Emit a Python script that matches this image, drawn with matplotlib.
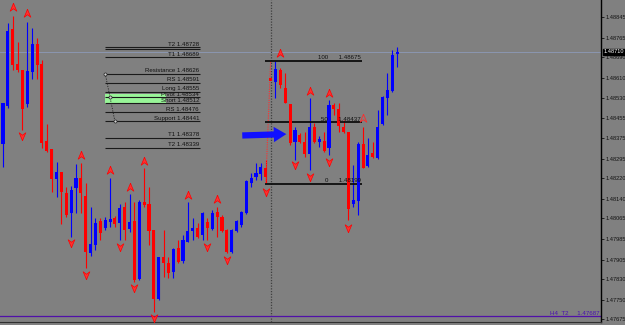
import numpy as np
import matplotlib
matplotlib.use("Agg")
import matplotlib.pyplot as plt
from matplotlib.path import Path

plt.rcParams['font.family'] = ['Liberation Sans', 'DejaVu Sans']

# candles (open, high, low, close)
opens = [1.48353, 1.48500, 1.48799, 1.48663, 1.48640, 1.48508, 1.48632, 1.48741, 1.48663, 1.48365,
         1.48334, 1.48218, 1.48245, 1.48163, 1.48086, 1.48183, 1.48221, 1.48152, 1.47931, 1.47962,
         1.48055, 1.48028, 1.48051, 1.48066, 1.48047, 1.48109, 1.48024, 1.48055, 1.47830, 1.48128,
         1.48121, 1.48020, 1.47753, 1.47915, 1.47892, 1.47857, 1.47950, 1.47900, 1.47973, 1.48016,
         1.48028, 1.48001, 1.48051, 1.48024, 1.48090, 1.48070, 1.48020, 1.47935, 1.48016, 1.48039,
         1.48086, 1.48202, 1.48225, 1.48237, 1.48260, 1.48609, 1.48593, 1.48640, 1.48570, 1.48508,
         1.48361, 1.48388, 1.48361, 1.48314, 1.48419, 1.48361, 1.48365, 1.48338, 1.48504, 1.48489,
         1.48419, 1.48400, 1.48121, 1.48132, 1.48353, 1.48268, 1.48318, 1.48299, 1.48431, 1.48531,
         1.48558, 1.48702]
highs = [1.48512, 1.48822, 1.48849, 1.48748, 1.48640, 1.48826, 1.48803, 1.48764, 1.48679, 1.48431,
         1.48334, 1.48283, 1.48245, 1.48187, 1.48190, 1.48276, 1.48280, 1.48202, 1.48109, 1.48066,
         1.48066, 1.48070, 1.48221, 1.48074, 1.48121, 1.48128, 1.48159, 1.48128, 1.48136, 1.48260,
         1.48187, 1.48020, 1.47915, 1.48020, 1.47915, 1.47950, 1.47981, 1.48001, 1.48128, 1.48066,
         1.48047, 1.48090, 1.48066, 1.48098, 1.48109, 1.48078, 1.48024, 1.48024, 1.48059, 1.48094,
         1.48214, 1.48241, 1.48280, 1.48280, 1.48291, 1.48671, 1.48675, 1.48648, 1.48628, 1.48508,
         1.48419, 1.48396, 1.48400, 1.48531, 1.48434, 1.48384, 1.48400, 1.48524, 1.48512, 1.48512,
         1.48446, 1.48400, 1.48272, 1.48361, 1.48419, 1.48376, 1.48361, 1.48485, 1.48539, 1.48628,
         1.48717, 1.48729]
lows = [1.48264, 1.48493, 1.48640, 1.48632, 1.48407, 1.48496, 1.48605, 1.48605, 1.48338, 1.48322,
        1.48167, 1.48148, 1.48043, 1.48070, 1.47993, 1.48086, 1.48086, 1.47873, 1.47919, 1.47942,
        1.47981, 1.48020, 1.48032, 1.48032, 1.47981, 1.47981, 1.48012, 1.47819, 1.47826, 1.48109,
        1.47962, 1.47702, 1.47749, 1.47838, 1.47834, 1.47834, 1.47892, 1.47892, 1.47973, 1.47981,
        1.47989, 1.47981, 1.47981, 1.48020, 1.47993, 1.48012, 1.47931, 1.47931, 1.48012, 1.48032,
        1.48082, 1.48187, 1.48214, 1.48214, 1.48202, 1.48590, 1.48531, 1.48570, 1.48512, 1.48349,
        1.48291, 1.48357, 1.48303, 1.48252, 1.48357, 1.48342, 1.48322, 1.48311, 1.48465, 1.48400,
        1.48396, 1.48059, 1.48109, 1.48078, 1.48260, 1.48264, 1.48299, 1.48295, 1.48427, 1.48465,
        1.48555, 1.48651]
closes = [1.48512, 1.48791, 1.48659, 1.48640, 1.48489, 1.48636, 1.48741, 1.48659, 1.48357, 1.48326,
          1.48218, 1.48245, 1.48167, 1.48078, 1.48175, 1.48221, 1.48163, 1.47935, 1.47966, 1.48047,
          1.48008, 1.48059, 1.48063, 1.48043, 1.48105, 1.48020, 1.48051, 1.47826, 1.48128, 1.48117,
          1.48016, 1.47753, 1.47915, 1.47892, 1.47853, 1.47946, 1.47896, 1.47981, 1.48016, 1.48028,
          1.47993, 1.48086, 1.48028, 1.48086, 1.48070, 1.48016, 1.47935, 1.48020, 1.48055, 1.48090,
          1.48210, 1.48221, 1.48241, 1.48264, 1.48225, 1.48597, 1.48644, 1.48582, 1.48512, 1.48357,
          1.48407, 1.48361, 1.48314, 1.48419, 1.48361, 1.48372, 1.48326, 1.48504, 1.48489, 1.48423,
          1.48400, 1.48101, 1.48136, 1.48353, 1.48260, 1.48311, 1.48303, 1.48419, 1.48535, 1.48562,
          1.48698, 1.48710]

# fractal arrows
up_idx = [2, 5, 16, 22, 26, 29, 38, 44, 57, 63, 67]
up_price = [1.48884, 1.48861, 1.48311, 1.48252, 1.48187, 1.48287, 1.48156, 1.48140, 1.48706, 1.48558, 1.48551]
hollow_idx = [74]
hollow_price = [1.48454]
dn_idx = [4, 14, 17, 24, 27, 31, 42, 46, 54, 60, 63, 67, 71]
dn_price = [1.48384, 1.47970, 1.47846, 1.47954, 1.47795, 1.47679, 1.47954, 1.47904, 1.48167, 1.48272,
            1.48225, 1.48283, 1.48028]

# pivot panel
pivot_names = ['T2', 'T1', 'Resistance', 'RS', 'Long', 'Pivot', 'Short', 'RS', 'Support', 'T1', 'T2']
pivot_levels = [1.48728, 1.48689, 1.48626, 1.48591, 1.48555, 1.48534, 1.48512, 1.48476, 1.48441, 1.48378, 1.48339]
extra_level = 1.48720
zone = [1.48508, 1.48547]
pivot_path_idx = [21, 22, 23]
pivot_path_price = [1.48626, 1.48534, 1.48441]

# fibo
fib_names = ['100', '50', '0']
fib_levels = [1.48675, 1.48437, 1.48199]

h4_t2 = 1.47687
yticks = [1.48845, 1.48765, 1.48690, 1.48610, 1.48530, 1.48455, 1.48375, 1.48295,
          1.48220, 1.48140, 1.48065, 1.47985, 1.47905, 1.47830, 1.47750, 1.47675]

fig = plt.figure(figsize=(6.25, 3.25), dpi=100, facecolor='#808080')
ax = fig.add_axes([0, 3 / 325, 601 / 625, 322 / 325])
ax.set_facecolor('#808080')

x = np.arange(len(opens))
o = np.array(opens); c = np.array(closes); h = np.array(highs); l = np.array(lows)
col = np.where(c >= o, '#0000ff', '#ff0000')
# the bar at the separator has a dotted wick drawn as a line to previous low
for i in x:
    if i == 55:
        continue
    ax.vlines(i, l[i], h[i], color=col[i], lw=0.8, zorder=3)
body_lo = np.minimum(o, c)
body_h = np.maximum(np.abs(c - o), 0.00006)
ax.bar(x, body_h, bottom=body_lo, width=0.64, color=col, linewidth=0, zorder=4)
ax.plot([54, 55], [lows[54], highs[55]], color='#ff3030', lw=0.8, ls=(0, (1, 1)), zorder=3)

# arrows
up_m = Path([(0, 1), (0.8, -0.9), (0, -0.3), (-0.8, -0.9), (0, 1)])
dn_m = Path([(0, -1), (0.8, 0.9), (0, 0.3), (-0.8, 0.9), (0, -1)])
ax.plot(up_idx, up_price, ls='none', marker=up_m, ms=6, mfc='#ff3030', mec='#ff0000', mew=0.5, zorder=5)
ax.plot(dn_idx, dn_price, ls='none', marker=dn_m, ms=6, mfc='#ff3030', mec='#ff0000', mew=0.5, zorder=5)
ax.plot(hollow_idx, hollow_price, ls='none', marker=up_m, ms=6, mfc='none', mec='#ff2a2a', mew=0.6, zorder=5)

# current price line & separator
ax.axhline(closes[-1], color='#8c9ab8', lw=0.6, zorder=1)
ax.axvline(55, color='#404040', lw=0.9, ls=(0, (1, 1.2)), zorder=2)

# pivot panel
px0, px1 = 21, 40.5
ax.fill_between([px0, 33.5], zone[0], zone[1], color='#98f598', lw=0, zorder=2)
ax.hlines(pivot_levels + [extra_level], px0, px1, color='#1a1a1a', lw=0.8, zorder=3)
for name, lv in zip(pivot_names, pivot_levels):
    ax.text(px1 - 0.2, lv + 0.00002, f'{name} {lv:.5f}', ha='right', va='bottom',
            fontsize=4.4, color='#111111', zorder=6)
ax.plot(pivot_path_idx, pivot_path_price, color='#222222', lw=0.6, ls=(0, (1.5, 1.5)),
        marker='o', ms=2.2, mfc='#d0d0d0', mec='#222222', mew=0.5, zorder=6)

# fibo
ax.hlines(fib_levels, 53.9, 73.8, color='#0d0d0d', lw=1.3, zorder=3)
for name, lv in zip(fib_names, fib_levels):
    ax.text(73.5, lv + 0.00002, f'{name}      {lv:.5f}', ha='right', va='bottom',
            fontsize=4.4, color='#111111', zorder=6)

# blue arrow
ax.annotate('', xy=(58.8, 1.48392), xytext=(48.6, 1.48386),
            arrowprops=dict(arrowstyle='simple,head_length=0.9,head_width=1.1,tail_width=0.45',
                            color='#1010ff', lw=0), zorder=7)

# H4 T2
ax.axhline(h4_t2, color='#5010a8', lw=0.9, zorder=2)
ax.text(122.6, h4_t2 + 0.00002, f'H4  T2     {h4_t2:.5f}', ha='right', va='bottom',
        fontsize=4.4, color='#4a10b0', zorder=6)

ax.set_xlim(-0.62, 122.9)
ax.set_ylim(1.47664, 1.48911)
ax.yaxis.tick_right()
ax.set_yticks(yticks)
ax.set_yticklabels([f'{v:.5f}' for v in yticks], fontsize=4.1, color='#111111')
ax.tick_params(axis='y', length=2, width=0.6, pad=1.2, colors='#111111')
ax.set_xticks([])
for s in ['top', 'left']:
    ax.spines[s].set_visible(False)
ax.spines['right'].set_color('#000000')
ax.spines['bottom'].set_color('#303030')
ax.spines['right'].set_linewidth(1)

# current price box
ax.text(1.004, closes[-1], f'{closes[-1]:.5f}', transform=ax.get_yaxis_transform(),
        ha='left', va='center', fontsize=4.1, color='white',
        bbox=dict(boxstyle='square,pad=0.15', fc='black', ec='black'), zorder=8, clip_on=False)

fig.savefig('out.png', dpi=100, facecolor=fig.get_facecolor())
